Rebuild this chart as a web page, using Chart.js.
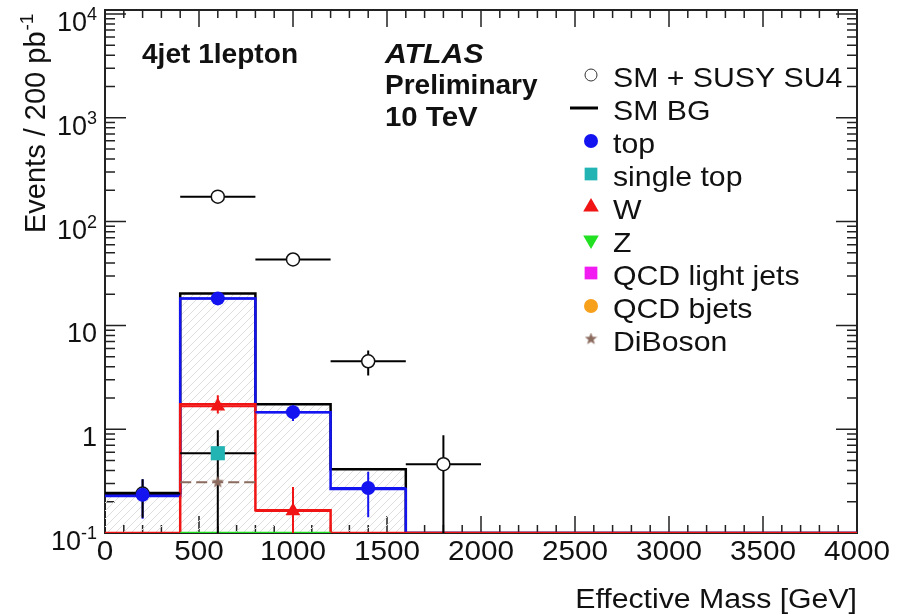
<!DOCTYPE html>
<html>
<head>
<meta charset="utf-8">
<title>Effective Mass - 4jet 1lepton</title>
<script src="https://cdn.jsdelivr.net/npm/chart.js@4.4.1/dist/chart.umd.min.js"></script>
<style>
  html, body { margin: 0; padding: 0; background: #fff; }
  #wrap { width: 900px; height: 615px; position: relative; }
</style>
</head>
<body>
<div id="wrap"><canvas id="meffChart"></canvas></div>
<script>
// ---- values (events / 200 pb^-1, 400 GeV bins) ----
const binEdges  = [0, 400, 800, 1200, 1600, 2000, 2400, 2800, 3200, 3600, 4000];
const smBG      = [0.243, 20.3, 1.74, 0.412, 0, 0, 0, 0, 0, 0];
const topHist   = [0.227, 18.2, 1.46, 0.265, 0, 0, 0, 0, 0, 0];
const wHist     = [0, 1.74, 0.166, 0, 0, 0, 0, 0, 0, 0];
const zHist     = [0, 0.06, 0.05, 0, 0, 0, 0, 0, 0, 0];

// points: [x, y, yLow, yHigh]
const susyPts      = [[200, 0.24, 0.14, 0.33], [600, 174, 166, 182], [1000, 43.2, 40.5, 46], [1400, 4.51, 3.3, 5.74], [1800, 0.46, 0, 0.875]];
const topPts       = [[200, 0.233, 0.137, 0.33], [600, 18.2, 17.4, 19], [1000, 1.46, 1.2, 1.7], [1400, 0.271, 0.142, 0.39]];
const wPts         = [[600, 1.66, 1.42, 2.12], [1000, 0.163, 0, 0.277]];
const singleTopPts = [[600, 0.587, 0, 0.978]];
const dibosonPts   = [[600, 0.309, 0.27, 0.35]];
const halfBin = 200;

const xTickVals   = [0, 500, 1000, 1500, 2000, 2500, 3000, 3500, 4000];
const yTickVals   = [0.1, 1, 10, 100, 1000, 10000];
const yTickLabels = [['10', '-1'], ['1', ''], ['10', ''], ['10', '2'], ['10', '3'], ['10', '4']];

const yMin = 0.1, yMax = 10930;
const FONT = '"Liberation Sans", Arial, Helvetica, sans-serif';

const floorV = v => Math.max(v, yMin);

// step outline: one point per left bin edge + closing edge
function stepPoints(vals, trim) {
  let a = 0, b = vals.length - 1;
  if (trim) {
    while (a < b && !(vals[a] > 0)) a++;
    while (b > a && !(vals[b] > 0)) b--;
  }
  const pts = [];
  for (let i = a; i <= b; i++) pts.push({ x: binEdges[i], y: floorV(vals[i]) });
  pts.push({ x: binEdges[b + 1], y: floorV(vals[b]) });
  return pts;
}

// error bars as broken line segments
function errBars(pts, withX, withY) {
  const d = [];
  pts.forEach(([x, y, lo, hi]) => {
    if (withY !== false) d.push({ x, y: floorV(lo) }, { x, y: hi }, { x, y: null });
    if (withX) d.push({ x: x - halfBin, y }, { x: x + halfBin, y }, { x, y: null });
  });
  return d;
}
const markers = pts => pts.map(p => ({ x: p[0], y: p[1] }));

// hatch pattern for the SM BG area
const hc = document.createElement('canvas');
hc.width = hc.height = 8;
const hg = hc.getContext('2d');
hg.strokeStyle = '#dedede';
hg.lineWidth = 1;
hg.beginPath();
hg.moveTo(0, 8); hg.lineTo(8, 0);
hg.moveTo(-2, 2); hg.lineTo(2, -2);
hg.moveTo(6, 10); hg.lineTo(10, 6);
hg.stroke();
const hatch = hg.createPattern(hc, 'repeat');

// small filled star used for DiBoson
function makeStar(size, color) {
  const c = document.createElement('canvas');
  c.width = c.height = size;
  const g = c.getContext('2d');
  const R = size / 2, r = R * 0.42;
  g.fillStyle = color;
  g.beginPath();
  for (let i = 0; i < 10; i++) {
    const rad = i % 2 ? r : R;
    const a = -Math.PI / 2 + i * Math.PI / 5;
    g.lineTo(R + rad * Math.cos(a), R + rad * Math.sin(a));
  }
  g.closePath();
  g.fill();
  return c;
}
const STAR_COL = '#8c6b5f';
const starImg = makeStar(13, STAR_COL);

const BLUE = '#1414f0', RED = '#f01414', CYAN = '#22b3b3', GREEN = '#22e022',
      MAGENTA = '#f21cf2', ORANGE = '#f7a01c';

const lineDs = (data, color, order, extra) => Object.assign({
  data, showLine: true, stepped: true, borderColor: color, borderWidth: 2.5,
  pointRadius: 0, fill: false, order
}, extra || {});
const errDs = (data, color, order, extra) => Object.assign({
  data, showLine: true, borderColor: color, borderWidth: 2, pointRadius: 0,
  spanGaps: false, fill: false, order
}, extra || {});
const ptDs = (data, style, radius, fillCol, borderCol, order, extra) => Object.assign({
  data, showLine: false, pointStyle: style, pointRadius: radius,
  pointBackgroundColor: fillCol, pointBorderColor: borderCol, pointBorderWidth: 0, order
}, extra || {});

function drawText(ctx, str, x, y, font, align, sx) {
  ctx.save();
  ctx.font = font;
  ctx.fillStyle = '#111';
  ctx.textBaseline = 'alphabetic';
  ctx.textAlign = align || 'left';
  ctx.translate(x, y);
  ctx.scale(sx || 1, 1);
  ctx.fillText(str, 0, 0);
  ctx.restore();
}

const frameAndText = {
  id: 'frameAndText',
  beforeDatasetsDraw(chart) {
    const { ctx, chartArea: { left, right, top, bottom } } = chart;
    const xa = chart.scales.x, ya = chart.scales.y;
    ctx.save();
    ctx.strokeStyle = '#222';
    ctx.lineWidth = 2;
    ctx.strokeRect(left, top, right - left, bottom - top);
    ctx.lineWidth = 1.5;
    ctx.beginPath();
    for (let v = 0; v <= 4000; v += 100) {
      const px = xa.getPixelForValue(v);
      const len = v % 500 === 0 ? 17 : 8;
      ctx.moveTo(px, bottom); ctx.lineTo(px, bottom - len);
      ctx.moveTo(px, top); ctx.lineTo(px, top + len);
    }
    for (let e = -1; e <= 4; e++) {
      for (let m = 1; m <= 9; m++) {
        const v = m * Math.pow(10, e);
        if (v > yMax) break;
        const py = ya.getPixelForValue(v);
        const len = m === 1 ? 21 : 10;
        ctx.moveTo(left, py); ctx.lineTo(left + len, py);
        ctx.moveTo(right, py); ctx.lineTo(right - len, py);
      }
    }
    ctx.stroke();
    ctx.restore();
  },
  afterDraw(chart) {
    const { ctx } = chart;
    const xa = chart.scales.x, ya = chart.scales.y;

    // x tick labels
    xTickVals.forEach(v => drawText(ctx, String(v), xa.getPixelForValue(v), 560, '27px ' + FONT, 'center', 1.1));
    // y tick labels with superscripts
    yTickVals.forEach((v, i) => {
      const py = ya.getPixelForValue(v);
      const [base, sup] = yTickLabels[i];
      const rightX = 97;
      let supW = 0;
      if (sup) {
        ctx.font = '18px ' + FONT;
        supW = ctx.measureText(sup).width;
        drawText(ctx, sup, rightX - supW, py + 6, '18px ' + FONT, 'left');
      }
      drawText(ctx, base, rightX - supW, py + 17, '27px ' + FONT, 'right');
    });

    // axis titles
    drawText(ctx, 'Effective Mass [GeV]', 857, 608, '27px ' + FONT, 'right', 1.12);
    ctx.save();
    ctx.translate(45, 233);
    ctx.rotate(-Math.PI / 2);
    drawText(ctx, 'Events / 200 pb', 0, 0, '29px ' + FONT, 'left');
    ctx.font = '29px ' + FONT;
    const w = ctx.measureText('Events / 200 pb').width;
    drawText(ctx, '-1', w + 1, -12, '19px ' + FONT, 'left');
    ctx.restore();

    // labels
    drawText(ctx, '4jet 1lepton', 142, 63, 'bold 27px ' + FONT, 'left', 1.04);
    drawText(ctx, 'ATLAS', 385, 63, 'italic bold 28px ' + FONT, 'left', 1.08);
    drawText(ctx, 'Preliminary', 385, 94, 'bold 28px ' + FONT, 'left');
    drawText(ctx, '10 TeV', 385, 126, 'bold 28px ' + FONT, 'left', 1.05);

    // legend
    const legendRows = [
      ['SM + SUSY SU4', 'openCircle'], ['SM BG', 'line'], ['top', 'circle', BLUE],
      ['single top', 'rect', CYAN], ['W', 'triangle', RED], ['Z', 'triangleDown', GREEN],
      ['QCD light jets', 'rect', MAGENTA], ['QCD bjets', 'circle', ORANGE], ['DiBoson', 'star', STAR_COL]
    ];
    const mx = 591;
    legendRows.forEach(([label, kind, col], i) => {
      const my = 75 + 33 * i;
      ctx.save();
      if (kind === 'openCircle') {
        ctx.fillStyle = '#fff'; ctx.strokeStyle = '#333';
        Chart.helpers.drawPoint(ctx, { pointStyle: 'circle', radius: 6, borderWidth: 1.5 }, mx, my);
      } else if (kind === 'line') {
        ctx.strokeStyle = '#000'; ctx.lineWidth = 3;
        ctx.beginPath(); ctx.moveTo(570, my); ctx.lineTo(598, my); ctx.stroke();
      } else if (kind === 'star') {
        Chart.helpers.drawPoint(ctx, { pointStyle: starImg, radius: 6, borderWidth: 0 }, mx, my);
      } else {
        ctx.fillStyle = col;
        const style = kind === 'triangleDown' ? 'triangle' : kind;
        const rot = kind === 'triangleDown' ? 180 : 0;
        const r = kind === 'rect' ? 9 : kind === 'circle' ? 7 : 9;
        Chart.helpers.drawPoint(ctx, { pointStyle: style, radius: r, rotation: rot, borderWidth: 0 }, mx, my);
      }
      ctx.restore();
      drawText(ctx, label, 613, my + 12, '28px ' + FONT, 'left', 1.08);
    });
  }
};

new Chart(document.getElementById('meffChart'), {
  type: 'scatter',
  data: {
    datasets: [
      // histograms (higher order = drawn further back)
      lineDs(stepPoints(smBG), '#000', 100, { fill: 'start', backgroundColor: hatch }),
      lineDs(stepPoints(topHist), BLUE, 90),
      lineDs(stepPoints(wHist), RED, 80),
      lineDs(stepPoints(zHist, true), GREEN, 70),
      // error bars
      errDs(errBars(dibosonPts, true, false), STAR_COL, 60, { borderDash: [11, 5] }),
      errDs(errBars(singleTopPts, true), '#000', 55),
      errDs(errBars(wPts, true), RED, 50),
      errDs(errBars(topPts, true), BLUE, 45),
      errDs(errBars(susyPts, true), '#000', 40),
      // markers
      ptDs(markers(dibosonPts), starImg, 6, STAR_COL, STAR_COL, 20),
      ptDs(markers(singleTopPts), 'rect', 10, CYAN, CYAN, 15),
      ptDs(markers(wPts), 'triangle', 8.5, RED, RED, 12),
      ptDs(markers(susyPts), 'circle', 6.5, '#fff', '#111', 10, { pointBorderWidth: 1.5 }),
      ptDs(markers(topPts), 'circle', 7, BLUE, BLUE, 5)
    ]
  },
  options: {
    responsive: true,
    maintainAspectRatio: false,
    animation: false,
    events: [],
    layout: { padding: { left: 105, right: 43, top: 10, bottom: 82 } },
    plugins: { legend: { display: false }, tooltip: { enabled: false } },
    scales: {
      x: { type: 'linear', min: 0, max: 4000, display: false },
      y: { type: 'logarithmic', min: yMin, max: yMax, display: false }
    }
  },
  plugins: [frameAndText]
});
</script>
</body>
</html>
